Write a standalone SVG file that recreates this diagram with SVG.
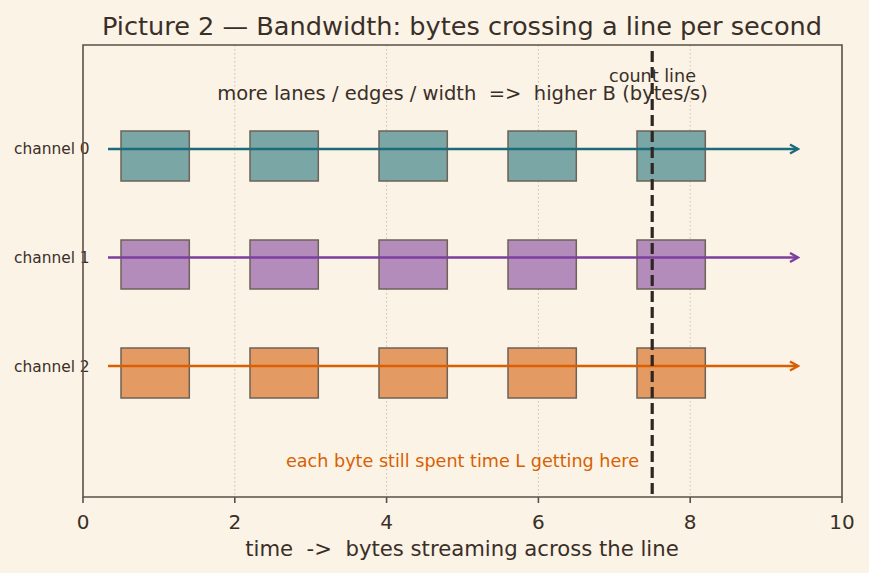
<svg xmlns="http://www.w3.org/2000/svg" width="869" height="573" viewBox="0 0 869 573">
<defs>
<style>
text{font-family:"DejaVu Sans","Liberation Sans",sans-serif;fill:#3a2f28}
.grid{stroke:#c9bfb1;stroke-width:1;stroke-dasharray:1.5,2.5}
.spine{stroke:#5c5046;stroke-width:1.6;fill:none}
.box{stroke:#6e6257;stroke-width:1.5}
.c0{fill:#7aa6a6}.c1{fill:#b48cbb}.c2{fill:#e49a63}
.tick{font-size:20px;text-anchor:middle}
.lab{font-size:15.4px}
</style>
<marker id="a0" viewBox="0 0 12 12" refX="10" refY="6" markerWidth="12" markerHeight="12" markerUnits="userSpaceOnUse" orient="auto"><path d="M2,1.5 L10,6 L2,10.5" fill="none" stroke="#1c6b7b" stroke-width="2.4"/></marker>
<marker id="a1" viewBox="0 0 12 12" refX="10" refY="6" markerWidth="12" markerHeight="12" markerUnits="userSpaceOnUse" orient="auto"><path d="M2,1.5 L10,6 L2,10.5" fill="none" stroke="#7b3f9e" stroke-width="2.4"/></marker>
<marker id="a2" viewBox="0 0 12 12" refX="10" refY="6" markerWidth="12" markerHeight="12" markerUnits="userSpaceOnUse" orient="auto"><path d="M2,1.5 L10,6 L2,10.5" fill="none" stroke="#d95f02" stroke-width="2.4"/></marker>
</defs>
<rect width="869" height="573" fill="#faf3e6"/>
<text x="462" y="35" font-size="25.6" text-anchor="middle">Picture 2 — Bandwidth: bytes crossing a line per second</text>
<g id="grid">
<line class="grid" x1="234.8" y1="45" x2="234.8" y2="497"/>
<line class="grid" x1="386.6" y1="45" x2="386.6" y2="497"/>
<line class="grid" x1="538.4" y1="45" x2="538.4" y2="497"/>
<line class="grid" x1="690.2" y1="45" x2="690.2" y2="497"/>
</g>
<g id="channel0">
<rect class="box c0" x="121" y="131" width="68.3" height="50"/>
<rect class="box c0" x="250" y="131" width="68.3" height="50"/>
<rect class="box c0" x="379" y="131" width="68.3" height="50"/>
<rect class="box c0" x="508" y="131" width="68.3" height="50"/>
<rect class="box c0" x="637" y="131" width="68.3" height="50"/>
<text class="lab" x="14" y="154">channel 0</text>
</g>
<g id="channel1">
<rect class="box c1" x="121" y="240" width="68.3" height="49"/>
<rect class="box c1" x="250" y="240" width="68.3" height="49"/>
<rect class="box c1" x="379" y="240" width="68.3" height="49"/>
<rect class="box c1" x="508" y="240" width="68.3" height="49"/>
<rect class="box c1" x="637" y="240" width="68.3" height="49"/>
<text class="lab" x="14" y="262.5">channel 1</text>
</g>
<g id="channel2">
<rect class="box c2" x="121" y="348" width="68.3" height="50"/>
<rect class="box c2" x="250" y="348" width="68.3" height="50"/>
<rect class="box c2" x="379" y="348" width="68.3" height="50"/>
<rect class="box c2" x="508" y="348" width="68.3" height="50"/>
<rect class="box c2" x="637" y="348" width="68.3" height="50"/>
<text class="lab" x="14" y="371.5">channel 2</text>
</g>
<g id="connectors">
<line x1="108" y1="149" x2="798" y2="149" stroke="#1c6b7b" stroke-width="2.6" marker-end="url(#a0)"/>
<line x1="108" y1="257.5" x2="798" y2="257.5" stroke="#7b3f9e" stroke-width="2.6" marker-end="url(#a1)"/>
<line x1="108" y1="366" x2="798" y2="366" stroke="#d95f02" stroke-width="2.6" marker-end="url(#a2)"/>
</g>
<g id="countline">
<line x1="652.2" y1="51" x2="652.2" y2="497" stroke="#2f2522" stroke-width="3.2" stroke-dasharray="11,5"/>
<text x="652.5" y="82" font-size="17.6" text-anchor="middle">count line</text>
</g>
<text x="462.5" y="100" font-size="19.5" text-anchor="middle" xml:space="preserve">more lanes / edges / width  =&gt;  higher B (bytes/s)</text>
<text x="462.5" y="467" font-size="17.6" text-anchor="middle" style="fill:#d95f02">each byte still spent time L getting here</text>
<g id="axes">
<path class="spine" d="M83,45 H842 V497 H83 Z"/>
<path class="spine" d="M83,497 v6 M234.8,497 v6 M386.6,497 v6 M538.4,497 v6 M690.2,497 v6 M842,497 v6"/>
<text class="tick" x="83" y="529">0</text>
<text class="tick" x="234.8" y="529">2</text>
<text class="tick" x="386.6" y="529">4</text>
<text class="tick" x="538.4" y="529">6</text>
<text class="tick" x="690.2" y="529">8</text>
<text class="tick" x="842" y="529">10</text>
<text x="462" y="556" font-size="21.2" text-anchor="middle" xml:space="preserve">time  -&gt;  bytes streaming across the line</text>
</g>
</svg>
